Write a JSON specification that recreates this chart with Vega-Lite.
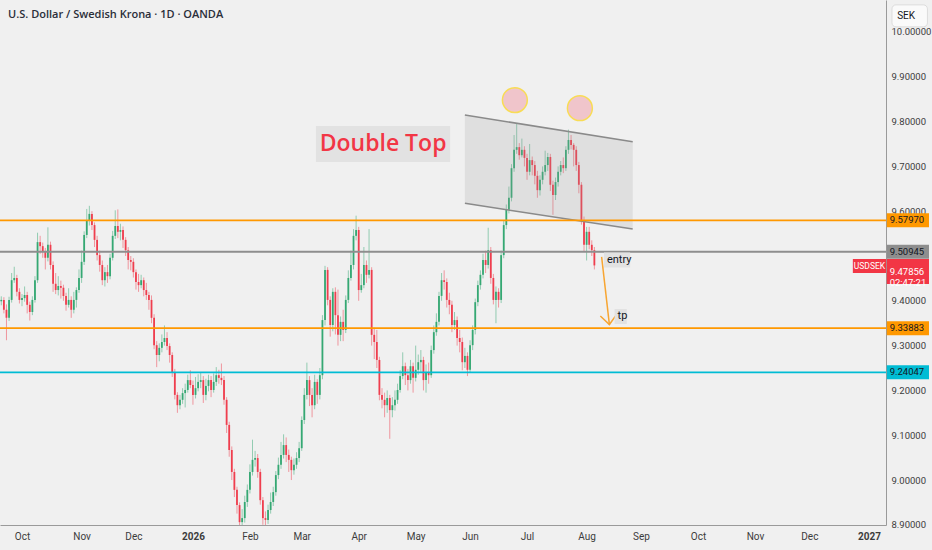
{
"$schema": "https://vega.github.io/schema/vega-lite/v6.json",
"width": 886, "height": 525,
"autosize": {"type": "none"},
"padding": {"left": 0, "top": 0, "right": 46, "bottom": 25},
"background": "#f0f0f0",
"config": {"font": "Roboto", "view": {"stroke": null}, "axis": {"grid": false}, "scale": {"continuousPadding": 0}},
"datasets": {
"candles": [
{"t":-8,"o":9.399,"h":9.410,"l":9.390,"c":9.402},
{"t":-7,"o":9.402,"h":9.408,"l":9.372,"c":9.380},
{"t":-6,"o":9.380,"h":9.392,"l":9.312,"c":9.362},
{"t":-5,"o":9.362,"h":9.409,"l":9.355,"c":9.402},
{"t":-4,"o":9.402,"h":9.462,"l":9.396,"c":9.446},
{"t":-3,"o":9.446,"h":9.476,"l":9.440,"c":9.451},
{"t":-2,"o":9.451,"h":9.458,"l":9.410,"c":9.420},
{"t":-1,"o":9.420,"h":9.428,"l":9.394,"c":9.402},
{"t":0,"o":9.402,"h":9.415,"l":9.388,"c":9.406},
{"t":1,"o":9.406,"h":9.432,"l":9.398,"c":9.413},
{"t":2,"o":9.413,"h":9.420,"l":9.372,"c":9.391},
{"t":3,"o":9.391,"h":9.398,"l":9.356,"c":9.375},
{"t":4,"o":9.375,"h":9.410,"l":9.368,"c":9.402},
{"t":5,"o":9.402,"h":9.455,"l":9.396,"c":9.446},
{"t":6,"o":9.446,"h":9.552,"l":9.440,"c":9.531},
{"t":7,"o":9.531,"h":9.545,"l":9.505,"c":9.522},
{"t":8,"o":9.522,"h":9.530,"l":9.496,"c":9.509},
{"t":9,"o":9.509,"h":9.518,"l":9.470,"c":9.496},
{"t":10,"o":9.496,"h":9.564,"l":9.488,"c":9.525},
{"t":11,"o":9.525,"h":9.532,"l":9.470,"c":9.480},
{"t":12,"o":9.480,"h":9.488,"l":9.420,"c":9.438},
{"t":13,"o":9.438,"h":9.462,"l":9.415,"c":9.424},
{"t":14,"o":9.424,"h":9.455,"l":9.412,"c":9.433},
{"t":15,"o":9.433,"h":9.445,"l":9.405,"c":9.429},
{"t":16,"o":9.429,"h":9.436,"l":9.400,"c":9.411},
{"t":17,"o":9.411,"h":9.418,"l":9.378,"c":9.391},
{"t":18,"o":9.391,"h":9.428,"l":9.385,"c":9.402},
{"t":19,"o":9.402,"h":9.410,"l":9.362,"c":9.380},
{"t":20,"o":9.380,"h":9.420,"l":9.372,"c":9.402},
{"t":21,"o":9.402,"h":9.430,"l":9.385,"c":9.424},
{"t":22,"o":9.424,"h":9.470,"l":9.418,"c":9.451},
{"t":23,"o":9.451,"h":9.512,"l":9.440,"c":9.487},
{"t":24,"o":9.487,"h":9.555,"l":9.480,"c":9.547},
{"t":25,"o":9.547,"h":9.605,"l":9.540,"c":9.580},
{"t":26,"o":9.580,"h":9.612,"l":9.568,"c":9.594},
{"t":27,"o":9.594,"h":9.600,"l":9.558,"c":9.569},
{"t":28,"o":9.569,"h":9.575,"l":9.520,"c":9.536},
{"t":29,"o":9.536,"h":9.545,"l":9.490,"c":9.502},
{"t":30,"o":9.502,"h":9.512,"l":9.465,"c":9.480},
{"t":31,"o":9.480,"h":9.490,"l":9.435,"c":9.446},
{"t":32,"o":9.446,"h":9.475,"l":9.432,"c":9.464},
{"t":33,"o":9.464,"h":9.480,"l":9.440,"c":9.455},
{"t":34,"o":9.455,"h":9.505,"l":9.448,"c":9.496},
{"t":35,"o":9.496,"h":9.556,"l":9.490,"c":9.545},
{"t":36,"o":9.545,"h":9.602,"l":9.538,"c":9.567},
{"t":37,"o":9.567,"h":9.604,"l":9.540,"c":9.554},
{"t":38,"o":9.554,"h":9.572,"l":9.535,"c":9.558},
{"t":39,"o":9.558,"h":9.566,"l":9.518,"c":9.536},
{"t":40,"o":9.536,"h":9.542,"l":9.500,"c":9.513},
{"t":41,"o":9.513,"h":9.520,"l":9.470,"c":9.491},
{"t":42,"o":9.491,"h":9.500,"l":9.468,"c":9.487},
{"t":43,"o":9.487,"h":9.495,"l":9.452,"c":9.464},
{"t":44,"o":9.464,"h":9.470,"l":9.425,"c":9.442},
{"t":45,"o":9.442,"h":9.460,"l":9.420,"c":9.435},
{"t":46,"o":9.435,"h":9.458,"l":9.428,"c":9.446},
{"t":47,"o":9.446,"h":9.452,"l":9.410,"c":9.424},
{"t":48,"o":9.424,"h":9.440,"l":9.402,"c":9.413},
{"t":49,"o":9.413,"h":9.420,"l":9.380,"c":9.402},
{"t":50,"o":9.402,"h":9.412,"l":9.350,"c":9.362},
{"t":51,"o":9.362,"h":9.370,"l":9.292,"c":9.301},
{"t":52,"o":9.301,"h":9.310,"l":9.252,"c":9.279},
{"t":53,"o":9.279,"h":9.305,"l":9.265,"c":9.295},
{"t":54,"o":9.295,"h":9.325,"l":9.285,"c":9.308},
{"t":55,"o":9.308,"h":9.345,"l":9.300,"c":9.317},
{"t":56,"o":9.317,"h":9.330,"l":9.290,"c":9.299},
{"t":57,"o":9.299,"h":9.305,"l":9.262,"c":9.279},
{"t":58,"o":9.279,"h":9.285,"l":9.230,"c":9.241},
{"t":59,"o":9.241,"h":9.248,"l":9.180,"c":9.190},
{"t":60,"o":9.190,"h":9.196,"l":9.150,"c":9.167},
{"t":61,"o":9.167,"h":9.190,"l":9.158,"c":9.179},
{"t":62,"o":9.179,"h":9.205,"l":9.170,"c":9.194},
{"t":63,"o":9.194,"h":9.215,"l":9.162,"c":9.201},
{"t":64,"o":9.201,"h":9.235,"l":9.195,"c":9.223},
{"t":65,"o":9.223,"h":9.245,"l":9.205,"c":9.212},
{"t":66,"o":9.212,"h":9.222,"l":9.168,"c":9.190},
{"t":67,"o":9.190,"h":9.230,"l":9.182,"c":9.205},
{"t":68,"o":9.205,"h":9.236,"l":9.198,"c":9.219},
{"t":69,"o":9.219,"h":9.240,"l":9.205,"c":9.223},
{"t":70,"o":9.223,"h":9.232,"l":9.172,"c":9.190},
{"t":71,"o":9.190,"h":9.226,"l":9.178,"c":9.210},
{"t":72,"o":9.210,"h":9.235,"l":9.198,"c":9.223},
{"t":73,"o":9.223,"h":9.232,"l":9.185,"c":9.201},
{"t":74,"o":9.201,"h":9.238,"l":9.195,"c":9.219},
{"t":75,"o":9.219,"h":9.252,"l":9.210,"c":9.234},
{"t":76,"o":9.234,"h":9.246,"l":9.215,"c":9.228},
{"t":77,"o":9.228,"h":9.260,"l":9.212,"c":9.223},
{"t":78,"o":9.223,"h":9.232,"l":9.168,"c":9.179},
{"t":79,"o":9.179,"h":9.185,"l":9.105,"c":9.123},
{"t":80,"o":9.123,"h":9.130,"l":9.052,"c":9.067},
{"t":81,"o":9.067,"h":9.075,"l":9.000,"c":9.018},
{"t":82,"o":9.018,"h":9.025,"l":8.962,"c":8.978},
{"t":83,"o":8.978,"h":8.985,"l":8.925,"c":8.944},
{"t":84,"o":8.944,"h":8.950,"l":8.880,"c":8.906},
{"t":85,"o":8.906,"h":8.935,"l":8.885,"c":8.915},
{"t":86,"o":8.915,"h":8.965,"l":8.905,"c":8.951},
{"t":87,"o":8.951,"h":8.990,"l":8.940,"c":8.978},
{"t":88,"o":8.978,"h":9.035,"l":8.970,"c":9.018},
{"t":89,"o":9.018,"h":9.090,"l":9.010,"c":9.045},
{"t":90,"o":9.045,"h":9.065,"l":9.030,"c":9.049},
{"t":91,"o":9.049,"h":9.058,"l":9.005,"c":9.018},
{"t":92,"o":9.018,"h":9.025,"l":8.945,"c":8.955},
{"t":93,"o":8.955,"h":8.962,"l":8.900,"c":8.915},
{"t":94,"o":8.915,"h":8.930,"l":8.895,"c":8.911},
{"t":95,"o":8.911,"h":8.945,"l":8.902,"c":8.933},
{"t":96,"o":8.933,"h":8.972,"l":8.925,"c":8.951},
{"t":97,"o":8.951,"h":8.985,"l":8.942,"c":8.973},
{"t":98,"o":8.973,"h":9.020,"l":8.965,"c":9.011},
{"t":99,"o":9.011,"h":9.050,"l":9.002,"c":9.034},
{"t":100,"o":9.034,"h":9.085,"l":9.025,"c":9.056},
{"t":101,"o":9.056,"h":9.102,"l":9.048,"c":9.078},
{"t":102,"o":9.078,"h":9.095,"l":9.040,"c":9.056},
{"t":103,"o":9.056,"h":9.068,"l":9.018,"c":9.045},
{"t":104,"o":9.045,"h":9.052,"l":9.000,"c":9.022},
{"t":105,"o":9.022,"h":9.048,"l":9.012,"c":9.034},
{"t":106,"o":9.034,"h":9.062,"l":9.025,"c":9.049},
{"t":107,"o":9.049,"h":9.085,"l":9.040,"c":9.071},
{"t":108,"o":9.071,"h":9.142,"l":9.065,"c":9.134},
{"t":109,"o":9.134,"h":9.205,"l":9.125,"c":9.190},
{"t":110,"o":9.190,"h":9.262,"l":9.180,"c":9.223},
{"t":111,"o":9.223,"h":9.232,"l":9.165,"c":9.190},
{"t":112,"o":9.190,"h":9.205,"l":9.140,"c":9.167},
{"t":113,"o":9.167,"h":9.235,"l":9.158,"c":9.219},
{"t":114,"o":9.219,"h":9.225,"l":9.170,"c":9.190},
{"t":115,"o":9.190,"h":9.250,"l":9.180,"c":9.234},
{"t":116,"o":9.234,"h":9.368,"l":9.225,"c":9.357},
{"t":117,"o":9.357,"h":9.478,"l":9.345,"c":9.469},
{"t":118,"o":9.469,"h":9.475,"l":9.390,"c":9.402},
{"t":119,"o":9.402,"h":9.410,"l":9.320,"c":9.346},
{"t":120,"o":9.346,"h":9.428,"l":9.332,"c":9.420},
{"t":121,"o":9.420,"h":9.430,"l":9.325,"c":9.368},
{"t":122,"o":9.368,"h":9.425,"l":9.300,"c":9.324},
{"t":123,"o":9.324,"h":9.365,"l":9.310,"c":9.353},
{"t":124,"o":9.353,"h":9.380,"l":9.310,"c":9.335},
{"t":125,"o":9.335,"h":9.412,"l":9.328,"c":9.402},
{"t":126,"o":9.402,"h":9.468,"l":9.395,"c":9.451},
{"t":127,"o":9.451,"h":9.512,"l":9.445,"c":9.480},
{"t":128,"o":9.480,"h":9.560,"l":9.470,"c":9.545},
{"t":129,"o":9.545,"h":9.590,"l":9.535,"c":9.558},
{"t":130,"o":9.558,"h":9.565,"l":9.400,"c":9.424},
{"t":131,"o":9.424,"h":9.460,"l":9.418,"c":9.435},
{"t":132,"o":9.435,"h":9.520,"l":9.428,"c":9.480},
{"t":133,"o":9.480,"h":9.490,"l":9.440,"c":9.458},
{"t":134,"o":9.458,"h":9.560,"l":9.450,"c":9.469},
{"t":135,"o":9.469,"h":9.475,"l":9.300,"c":9.324},
{"t":136,"o":9.324,"h":9.340,"l":9.270,"c":9.308},
{"t":137,"o":9.308,"h":9.335,"l":9.250,"c":9.268},
{"t":138,"o":9.268,"h":9.275,"l":9.178,"c":9.190},
{"t":139,"o":9.190,"h":9.205,"l":9.160,"c":9.179},
{"t":140,"o":9.179,"h":9.195,"l":9.140,"c":9.167},
{"t":141,"o":9.167,"h":9.200,"l":9.150,"c":9.183},
{"t":142,"o":9.183,"h":9.190,"l":9.092,"c":9.156},
{"t":143,"o":9.156,"h":9.185,"l":9.140,"c":9.167},
{"t":144,"o":9.167,"h":9.200,"l":9.155,"c":9.179},
{"t":145,"o":9.179,"h":9.215,"l":9.170,"c":9.201},
{"t":146,"o":9.201,"h":9.245,"l":9.195,"c":9.232},
{"t":147,"o":9.232,"h":9.285,"l":9.225,"c":9.254},
{"t":148,"o":9.254,"h":9.262,"l":9.212,"c":9.234},
{"t":149,"o":9.234,"h":9.248,"l":9.200,"c":9.223},
{"t":150,"o":9.223,"h":9.268,"l":9.215,"c":9.254},
{"t":151,"o":9.254,"h":9.262,"l":9.195,"c":9.228},
{"t":152,"o":9.228,"h":9.300,"l":9.220,"c":9.246},
{"t":153,"o":9.246,"h":9.280,"l":9.235,"c":9.263},
{"t":154,"o":9.263,"h":9.290,"l":9.240,"c":9.268},
{"t":155,"o":9.268,"h":9.275,"l":9.200,"c":9.223},
{"t":156,"o":9.223,"h":9.258,"l":9.195,"c":9.241},
{"t":157,"o":9.241,"h":9.262,"l":9.215,"c":9.234},
{"t":158,"o":9.234,"h":9.300,"l":9.228,"c":9.290},
{"t":159,"o":9.290,"h":9.345,"l":9.282,"c":9.330},
{"t":160,"o":9.330,"h":9.372,"l":9.322,"c":9.353},
{"t":161,"o":9.353,"h":9.420,"l":9.345,"c":9.411},
{"t":162,"o":9.411,"h":9.462,"l":9.400,"c":9.446},
{"t":163,"o":9.446,"h":9.468,"l":9.425,"c":9.442},
{"t":164,"o":9.442,"h":9.450,"l":9.385,"c":9.402},
{"t":165,"o":9.402,"h":9.418,"l":9.370,"c":9.391},
{"t":166,"o":9.391,"h":9.400,"l":9.330,"c":9.346},
{"t":167,"o":9.346,"h":9.375,"l":9.335,"c":9.357},
{"t":168,"o":9.357,"h":9.365,"l":9.300,"c":9.317},
{"t":169,"o":9.317,"h":9.335,"l":9.285,"c":9.308},
{"t":170,"o":9.308,"h":9.318,"l":9.245,"c":9.263},
{"t":171,"o":9.263,"h":9.295,"l":9.250,"c":9.277},
{"t":172,"o":9.277,"h":9.285,"l":9.232,"c":9.246},
{"t":173,"o":9.246,"h":9.312,"l":9.240,"c":9.301},
{"t":174,"o":9.301,"h":9.345,"l":9.290,"c":9.335},
{"t":175,"o":9.335,"h":9.405,"l":9.325,"c":9.397},
{"t":176,"o":9.397,"h":9.445,"l":9.388,"c":9.435},
{"t":177,"o":9.435,"h":9.468,"l":9.425,"c":9.458},
{"t":178,"o":9.458,"h":9.505,"l":9.450,"c":9.491},
{"t":179,"o":9.491,"h":9.512,"l":9.462,"c":9.480},
{"t":180,"o":9.480,"h":9.563,"l":9.472,"c":9.513},
{"t":181,"o":9.513,"h":9.520,"l":9.438,"c":9.451},
{"t":182,"o":9.451,"h":9.460,"l":9.392,"c":9.402},
{"t":183,"o":9.402,"h":9.432,"l":9.350,"c":9.420},
{"t":184,"o":9.420,"h":9.428,"l":9.385,"c":9.402},
{"t":185,"o":9.402,"h":9.512,"l":9.395,"c":9.502},
{"t":186,"o":9.502,"h":9.578,"l":9.495,"c":9.569},
{"t":187,"o":9.569,"h":9.615,"l":9.560,"c":9.603},
{"t":188,"o":9.603,"h":9.655,"l":9.595,"c":9.630},
{"t":189,"o":9.630,"h":9.705,"l":9.622,"c":9.696},
{"t":190,"o":9.696,"h":9.770,"l":9.688,"c":9.737},
{"t":191,"o":9.737,"h":9.795,"l":9.728,"c":9.743},
{"t":192,"o":9.743,"h":9.752,"l":9.715,"c":9.725},
{"t":193,"o":9.725,"h":9.762,"l":9.720,"c":9.737},
{"t":194,"o":9.737,"h":9.745,"l":9.700,"c":9.719},
{"t":195,"o":9.719,"h":9.728,"l":9.670,"c":9.688},
{"t":196,"o":9.688,"h":9.750,"l":9.680,"c":9.714},
{"t":197,"o":9.714,"h":9.722,"l":9.680,"c":9.703},
{"t":198,"o":9.703,"h":9.712,"l":9.660,"c":9.679},
{"t":199,"o":9.679,"h":9.690,"l":9.630,"c":9.647},
{"t":200,"o":9.647,"h":9.680,"l":9.635,"c":9.670},
{"t":201,"o":9.670,"h":9.700,"l":9.660,"c":9.688},
{"t":202,"o":9.688,"h":9.735,"l":9.680,"c":9.703},
{"t":203,"o":9.703,"h":9.730,"l":9.690,"c":9.721},
{"t":204,"o":9.721,"h":9.728,"l":9.645,"c":9.659},
{"t":205,"o":9.659,"h":9.668,"l":9.592,"c":9.636},
{"t":206,"o":9.636,"h":9.675,"l":9.625,"c":9.665},
{"t":207,"o":9.665,"h":9.700,"l":9.655,"c":9.688},
{"t":208,"o":9.688,"h":9.712,"l":9.680,"c":9.703},
{"t":209,"o":9.703,"h":9.720,"l":9.685,"c":9.696},
{"t":210,"o":9.696,"h":9.745,"l":9.690,"c":9.737},
{"t":211,"o":9.737,"h":9.782,"l":9.728,"c":9.759},
{"t":212,"o":9.759,"h":9.770,"l":9.738,"c":9.748},
{"t":213,"o":9.748,"h":9.752,"l":9.700,"c":9.737},
{"t":214,"o":9.737,"h":9.745,"l":9.690,"c":9.703},
{"t":215,"o":9.703,"h":9.710,"l":9.640,"c":9.659},
{"t":216,"o":9.659,"h":9.665,"l":9.570,"c":9.580},
{"t":217,"o":9.580,"h":9.588,"l":9.510,"c":9.525},
{"t":218,"o":9.525,"h":9.565,"l":9.490,"c":9.554},
{"t":219,"o":9.554,"h":9.565,"l":9.515,"c":9.525},
{"t":220,"o":9.525,"h":9.535,"l":9.500,"c":9.513},
{"t":221,"o":9.513,"h":9.520,"l":9.470,"c":9.479}
],
"levels": [
{"name":"upper","p":9.5797,"label":"9.57970"},
{"name":"entry","p":9.50945,"label":"9.50945"},
{"name":"tp","p":9.33883,"label":"9.33883"},
{"name":"support","p":9.24047,"label":"9.24047"}
],
"channel": [
{"t":171.0,"top":9.8147,"bot":9.6176},
{"t":235.8,"top":9.7551,"bot":9.5603}
],
"edges": [
{"edge":"upper","t1":171.0,"p1":9.8147,"t2":235.8,"p2":9.7551},
{"edge":"lower","t1":171.0,"p1":9.6176,"t2":235.8,"p2":9.5603}
],
"tops": [
{"t":190.3,"p":9.848},
{"t":215.4,"p":9.830}
],
"arrow": [
{"seg":"shaft","k":0,"t":223.8,"p":9.498},
{"seg":"shaft","k":1,"t":226.8,"p":9.347},
{"seg":"head","k":0,"t":223.3,"p":9.366},
{"seg":"head","k":1,"t":226.8,"p":9.347},
{"seg":"head","k":2,"t":229.4,"p":9.368}
],
"notes": [
{"label":"entry","t1":224.7,"t2":234.8,"p":9.4911},
{"label":"tp","t1":228.8,"t2":233.5,"p":9.365}
]
},
"layer": [
{
"data": {"values": [{"label":"Double Top","t1":113.5,"t2":165.3,"tc":139.4,"p":9.75}]},
"mark": {"type":"bar","orient":"horizontal","size":36,"color":"#e2e2e2"},
"encoding": {
"x": {"field":"t1","type":"quantitative","scale":{"domain":[-8.5,333.6],"nice":false,"zero":false,"padding":0},
"axis": {"orient":"bottom","title":null,"ticks":false,"grid":false,"labelPadding":6,"labelFontSize":10,"labelColor":"#3c3c3c","domainColor":"#9a9a9a","labelFlush":false,"labelOverlap":false,
"values":[0,23,43,66,88,108,130,152,173,195,218,239,261,283,304,327],
"labelExpr":"['Oct','Nov','Dec','2026','Feb','Mar','Apr','May','Jun','Jul','Aug','Sep','Oct','Nov','Dec','2027'][indexof([0,23,43,66,88,108,130,152,173,195,218,239,261,283,304,327], datum.value)]",
"labelFontWeight":{"condition":{"test":"datum.value == 66 || datum.value == 327","value":"bold"},"value":"normal"}}},
"x2": {"field":"t2"},
"y": {"field":"p","type":"quantitative","scale":{"domain":[8.8996,10.0714],"nice":false,"zero":false,"padding":0},
"axis": {"orient":"right","title":null,"ticks":false,"grid":false,"labelPadding":5,"labelFontSize":9.5,"labelColor":"#3c3c3c","domainColor":"#9a9a9a","format":".5f","labelFlush":false,"labelOverlap":false,
"values":[8.9,9.0,9.1,9.2,9.3,9.4,9.6,9.7,9.8,9.9,10.0]}}
}
},
{
"data": {"values": [{"label":"Double Top","tc":139.4,"p":9.75}]},
"mark": {"type":"text","font":"Open Sans","fontSize":23,"fontWeight":600,"color":"#f23645","align":"center","baseline":"middle"},
"encoding": {
"x": {"field":"tc","type":"quantitative","axis":{"title":null}},
"y": {"field":"p","type":"quantitative","axis":{"title":null}},
"text": {"field":"label"}
}
},
{
"data": {"name":"candles"},
"mark": {"type":"rule","clip":true,"strokeWidth":1,"opacity":0.5},
"encoding": {
"x": {"field":"t","type":"quantitative","axis":{"title":null}},
"y": {"field":"l","type":"quantitative","axis":{"title":null}},
"y2": {"field":"h"},
"color": {"condition":{"test":"datum.c >= datum.o","value":"#35a873"},"value":"#ef3e4e"}
}
},
{
"data": {"name":"candles"},
"mark": {"type":"bar","clip":true,"width":1.8},
"encoding": {
"x": {"field":"t","type":"quantitative","axis":{"title":null}},
"y": {"field":"o","type":"quantitative","axis":{"title":null}},
"y2": {"field":"c"},
"color": {"condition":{"test":"datum.c >= datum.o","value":"#35a873"},"value":"#ef3e4e"}
}
},
{
"data": {"name":"channel"},
"mark": {"type":"area","color":"#9a9a9a","opacity":0.2},
"encoding": {
"x": {"field":"t","type":"quantitative","axis":{"title":null}},
"y": {"field":"top","type":"quantitative","axis":{"title":null}},
"y2": {"field":"bot"}
}
},
{
"data": {"name":"edges"},
"mark": {"type":"rule","color":"#8a8a8a","strokeWidth":1.5},
"encoding": {
"x": {"field":"t1","type":"quantitative","axis":{"title":null}},
"y": {"field":"p1","type":"quantitative","axis":{"title":null}},
"x2": {"field":"t2"},
"y2": {"field":"p2"}
}
},
{
"data": {"name":"levels"},
"mark": {"type":"rule","strokeWidth":1.8},
"encoding": {
"y": {"field":"p","type":"quantitative","axis":{"title":null}},
"color": {"field":"name","type":"nominal","legend":null,"scale":{"domain":["upper","entry","tp","support"],"range":["#ff9800","#8e8e8e","#ff9800","#00bcd4"]}}
}
},
{
"data": {"name":"tops"},
"mark": {"type":"point","shape":"circle","filled":true,"size":620,"fill":"#f0c5cb","stroke":"#f8dc55","strokeWidth":1.5,"opacity":1},
"encoding": {
"x": {"field":"t","type":"quantitative","axis":{"title":null}},
"y": {"field":"p","type":"quantitative","axis":{"title":null}}
}
},
{
"data": {"name":"arrow"},
"mark": {"type":"line","color":"#f7a532","strokeWidth":1.5},
"encoding": {
"x": {"field":"t","type":"quantitative","axis":{"title":null}},
"y": {"field":"p","type":"quantitative","axis":{"title":null}},
"detail": {"field":"seg"},
"order": {"field":"k"}
}
},
{
"data": {"name":"notes"},
"mark": {"type":"bar","orient":"horizontal","size":15,"color":"#e2e2e2"},
"encoding": {
"x": {"field":"t1","type":"quantitative","axis":{"title":null}},
"x2": {"field":"t2"},
"y": {"field":"p","type":"quantitative","axis":{"title":null}}
}
},
{
"data": {"name":"notes"},
"mark": {"type":"text","align":"left","baseline":"middle","dx":3,"fontSize":11,"color":"#131722"},
"encoding": {
"x": {"field":"t1","type":"quantitative","axis":{"title":null}},
"y": {"field":"p","type":"quantitative","axis":{"title":null}},
"text": {"field":"label"}
}
},
{
"data": {"name":"levels"},
"mark": {"type":"bar","orient":"horizontal","size":14},
"encoding": {
"x": {"datum":333.9,"type":"quantitative","axis":{"title":null}},
"x2": {"datum":350.2},
"y": {"field":"p","type":"quantitative","axis":{"title":null}},
"color": {"field":"name","type":"nominal","legend":null,"scale":{"domain":["upper","entry","tp","support"],"range":["#ff9800","#9c9c9c","#ff9800","#00bcd4"]}}
}
},
{
"data": {"name":"levels"},
"mark": {"type":"text","align":"left","baseline":"middle","fontSize":9.5,"color":"#131722"},
"encoding": {
"x": {"datum":335.0,"type":"quantitative","axis":{"title":null}},
"y": {"field":"p","type":"quantitative","axis":{"title":null}},
"text": {"field":"label"}
}
},
{
"data": {"values":[{"sym":"USDSEK","price":"9.47856\n02:47:21","p":9.4777,"pc":9.4654}]},
"layer": [
{"mark": {"type":"bar","orient":"horizontal","size":14,"color":"#f23645"},
"encoding": {"x":{"datum":320.8,"type":"quantitative","axis":{"title":null}},"x2":{"datum":333.6},"y":{"field":"p","type":"quantitative","axis":{"title":null}}}},
{"mark": {"type":"text","align":"center","baseline":"middle","fontSize":8.5,"color":"#ffffff"},
"encoding": {"x":{"datum":327.2,"type":"quantitative","axis":{"title":null}},"y":{"field":"p","type":"quantitative","axis":{"title":null}},"text":{"field":"sym"}}},
{"mark": {"type":"bar","orient":"horizontal","size":25,"color":"#f23645"},
"encoding": {"x":{"datum":333.9,"type":"quantitative","axis":{"title":null}},"x2":{"datum":350.2},"y":{"field":"pc","type":"quantitative","axis":{"title":null}}}},
{"mark": {"type":"text","align":"left","baseline":"middle","fontSize":9.5,"color":"#ffffff","lineBreak":"\n","lineHeight":11.5},
"encoding": {"x":{"datum":335.0,"type":"quantitative","axis":{"title":null}},"y":{"field":"pc","type":"quantitative","axis":{"title":null}},"text":{"field":"price"}}}
]
},
{
"data": {"values":[{"unit":"SEK","p":10.036}]},
"layer": [
{"mark": {"type":"bar","orient":"horizontal","size":22,"color":"#fafafa","stroke":"#dcdcdc","strokeWidth":1,"cornerRadius":4},
"encoding": {"x":{"datum":335.9,"type":"quantitative","axis":{"title":null}},"x2":{"datum":349.6},"y":{"field":"p","type":"quantitative","axis":{"title":null}}}},
{"mark": {"type":"text","align":"left","baseline":"middle","fontSize":10,"color":"#131722"},
"encoding": {"x":{"datum":337.9,"type":"quantitative","axis":{"title":null}},"y":{"field":"p","type":"quantitative","axis":{"title":null}},"text":{"field":"unit"}}}
]
},
{
"data": {"values":[{"title":"U.S. Dollar / Swedish Krona · 1D · OANDA","t":-5.4,"p":10.038}]},
"mark": {"type":"text","align":"left","baseline":"middle","font":"Open Sans","fontSize":11,"fontWeight":600,"color":"#2a2e39"},
"encoding": {
"x": {"field":"t","type":"quantitative","axis":{"title":null}},
"y": {"field":"p","type":"quantitative","axis":{"title":null}},
"text": {"field":"title"}
}
}
]
}
